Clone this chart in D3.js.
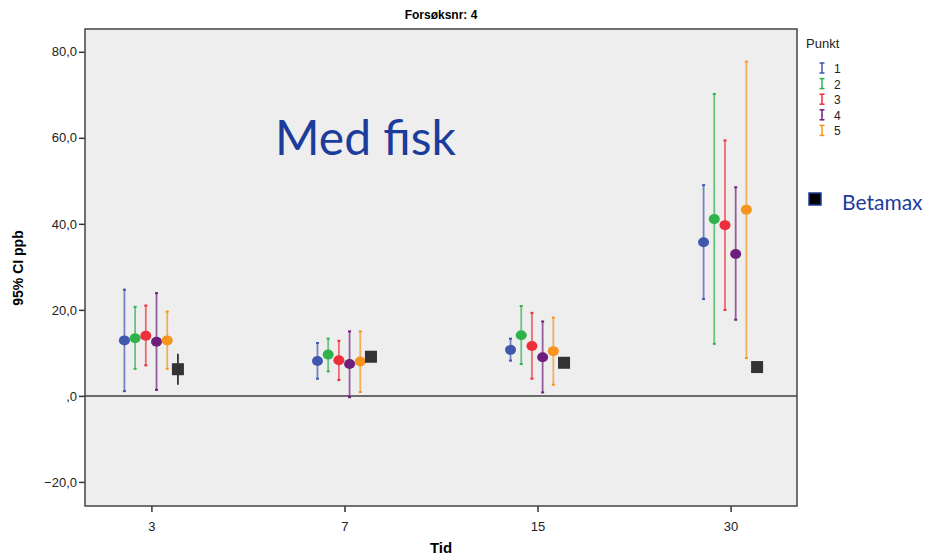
<!DOCTYPE html>
<html>
<head>
<meta charset="utf-8">
<script src="https://cdn.jsdelivr.net/npm/d3@7"></script>
<style>
  body { margin: 0; background: #fff; }
  text { font-family: "Liberation Sans", Arial, sans-serif; }
</style>
</head>
<body>
<div id="chartDiv"></div>
<script>
//--------------------------------------------------------------------------------
// data
var tider = ["3", "7", "15", "30"];
var punkter = ["1", "2", "3", "4", "5"];
var punktColors = ["#3f57ad", "#2fb24a", "#ec2f3a", "#6e1f7b", "#f7941d"];

   // mean, lower, upper per tid, one array per punkt
var punkt1 = [[12.9, 1.1, 24.7], [8.1, 4.0, 12.3], [10.7, 8.2, 13.3], [35.7, 22.5, 49.0]];
var punkt2 = [[13.4, 6.3, 20.7], [9.6, 5.7, 13.3], [14.1, 7.4, 20.9], [41.1, 12.1, 70.2]];
var punkt3 = [[14.0, 7.1, 21.0], [8.3, 3.7, 12.8], [11.6, 4.0, 19.3], [39.7, 20.0, 59.4]];
var punkt4 = [[12.6, 1.4, 23.9], [7.4, -0.3, 15.0], [9.0, 0.8, 17.3], [33.0, 17.7, 48.5]];
var punkt5 = [[12.9, 6.3, 19.6], [8.0, 0.9, 15.0], [10.4, 2.6, 18.2], [43.3, 8.8, 77.7]];
var betamax = [[6.2, 2.6, 9.8], [9.1, 7.9, 10.2], [7.7, 7.3, 8.1], [6.7, 6.7, 6.7]];

var yTicks = [80, 60, 40, 20, 0, -20];

//--------------------------------------------------------------------------------
var width = 926, height = 559;
var plot = {left: 85, right: 797, top: 29, bottom: 506};

var svg = d3.select("#chartDiv")
    .append("svg")
    .attr("width", width)
    .attr("height", height);

var xScale = d3.scalePoint()
    .domain(tider)
    .range([plot.left, plot.right])
    .padding(0.344);

var slotScale = d3.scaleLinear()
    .domain([0, 5])
    .range([-27, 26.5]);

var yScale = d3.scaleLinear()
    .domain([-25.6, 85.3])
    .range([plot.bottom, plot.top]);

svg.append("rect")
   .attr("x", plot.left)
   .attr("y", plot.top)
   .attr("width", plot.right - plot.left)
   .attr("height", plot.bottom - plot.top)
   .attr("fill", "#eeeeee");

   // zero reference line
svg.append("line")
   .attr("x1", plot.left).attr("x2", plot.right)
   .attr("y1", yScale(0)).attr("y2", yScale(0))
   .attr("stroke", "#6b6b6b")
   .attr("stroke-width", 2);

svg.append("text")
   .attr("x", 275)
   .attr("y", 155)
   .attr("fill", "#1c3c9c")
   .style("font-family", "Lato, 'Noto Sans', sans-serif")
   .style("font-size", "48px")
   .text("Med fisk");

//--------------------------------------------------------------------------------
function formatTick(v)
{
   if(v == 0) return ",0";
   return d3.format(".1f")(v).replace(".", ",");
}

var yAxis = d3.axisLeft(yScale)
    .tickValues(yTicks)
    .tickSize(6)
    .tickFormat(formatTick);

var gy = svg.append("g")
    .attr("transform", "translate(" + plot.left + ",0)")
    .call(yAxis);
gy.select(".domain").remove();
gy.selectAll("line").attr("stroke", "#333").attr("stroke-width", 1.5);
gy.selectAll("text").style("font-size", "13px").attr("fill", "#222").attr("x", -8);

var xAxis = d3.axisBottom(xScale).tickSize(6);
var gx = svg.append("g")
    .attr("transform", "translate(0," + plot.bottom + ")")
    .call(xAxis);
gx.select(".domain").remove();
gx.selectAll("line").attr("stroke", "#333").attr("stroke-width", 1.5);
gx.selectAll("text").style("font-size", "13px").attr("fill", "#222").attr("dy", "1.2em");

svg.append("rect")
   .attr("x", plot.left)
   .attr("y", plot.top)
   .attr("width", plot.right - plot.left)
   .attr("height", plot.bottom - plot.top)
   .attr("fill", "none")
   .attr("stroke", "#444")
   .attr("stroke-width", 1.5);

//--------------------------------------------------------------------------------
var series = [punkt1, punkt2, punkt3, punkt4, punkt5];

series.forEach(function(values, s){
   var color = punktColors[s];
   var g = svg.append("g");
   var cx = function(d, i){ return xScale(tider[i]) + slotScale(s); };

   g.selectAll("line.bar")
      .data(values)
      .enter()
      .append("line")
      .attr("x1", cx).attr("x2", cx)
      .attr("y1", function(d){ return yScale(d[1]); })
      .attr("y2", function(d){ return yScale(d[2]); })
      .attr("stroke", color)
      .attr("stroke-opacity", 0.7)
      .attr("stroke-width", 1.8);

   [1, 2].forEach(function(k){
      g.selectAll("line.cap" + k)
         .data(values)
         .enter()
         .append("line")
         .attr("x1", function(d, i){ return cx(d, i) - 1.5; })
         .attr("x2", function(d, i){ return cx(d, i) + 1.5; })
         .attr("y1", function(d){ return yScale(d[k]); })
         .attr("y2", function(d){ return yScale(d[k]); })
         .attr("stroke", color)
         .attr("stroke-width", 2);
      });

   g.selectAll("ellipse")
      .data(values)
      .enter()
      .append("ellipse")
      .attr("cx", cx)
      .attr("cy", function(d){ return yScale(d[0]); })
      .attr("rx", 5.5)
      .attr("ry", 5)
      .attr("fill", color);
   });

   // Betamax squares
var bg = svg.append("g");
var bx = function(d, i){ return xScale(tider[i]) + slotScale(5); };

bg.selectAll("line.bar")
   .data(betamax)
   .enter()
   .append("line")
   .attr("x1", bx).attr("x2", bx)
   .attr("y1", function(d){ return yScale(d[1]); })
   .attr("y2", function(d){ return yScale(d[2]); })
   .attr("stroke", "#333")
   .attr("stroke-width", 1.8);

bg.selectAll("rect")
   .data(betamax)
   .enter()
   .append("rect")
   .attr("x", function(d, i){ return bx(d, i) - 6; })
   .attr("y", function(d){ return yScale(d[0]) - 6; })
   .attr("width", 12)
   .attr("height", 12)
   .attr("fill", "#333");

//--------------------------------------------------------------------------------
// titles
svg.append("text")
   .attr("x", 441).attr("y", 19)
   .attr("text-anchor", "middle")
   .style("font-size", "12px")
   .style("font-weight", "bold")
   .text("Forsøksnr: 4");

svg.append("text")
   .attr("x", 441).attr("y", 553)
   .attr("text-anchor", "middle")
   .style("font-size", "15px")
   .style("font-weight", "bold")
   .text("Tid");

svg.append("text")
   .attr("transform", "translate(23," + 268 + ") rotate(-90)")
   .attr("text-anchor", "middle")
   .style("font-size", "14px")
   .style("font-weight", "bold")
   .text("95% CI ppb");

//--------------------------------------------------------------------------------
// legend
svg.append("text")
   .attr("x", 806).attr("y", 48)
   .style("font-size", "13px")
   .attr("fill", "#222")
   .text("Punkt");

var leg = svg.selectAll("g.legend")
   .data(punkter)
   .enter()
   .append("g")
   .attr("transform", function(d, i){ return "translate(822," + (68 + i * 15.6) + ")"; });

leg.append("line")
   .attr("x1", 0).attr("x2", 0).attr("y1", -5).attr("y2", 5)
   .attr("stroke", function(d, i){ return punktColors[i]; })
   .attr("stroke-width", 1.5);
leg.append("line")
   .attr("x1", -2.5).attr("x2", 2.5).attr("y1", -5).attr("y2", -5)
   .attr("stroke", function(d, i){ return punktColors[i]; })
   .attr("stroke-width", 1.5);
leg.append("line")
   .attr("x1", -2.5).attr("x2", 2.5).attr("y1", 5).attr("y2", 5)
   .attr("stroke", function(d, i){ return punktColors[i]; })
   .attr("stroke-width", 1.5);
leg.append("text")
   .attr("x", 12).attr("y", 5)
   .style("font-size", "12px")
   .attr("fill", "#222")
   .text(function(d){ return d; });

svg.append("rect")
   .attr("x", 809).attr("y", 193)
   .attr("width", 12).attr("height", 12)
   .attr("fill", "#000")
   .attr("stroke", "#1c3c9c")
   .attr("stroke-width", 1.5);

svg.append("text")
   .attr("x", 842).attr("y", 210)
   .attr("fill", "#1c3c9c")
   .style("font-family", "Lato, 'Noto Sans', sans-serif")
   .style("font-size", "21px")
   .text("Betamax");
</script>
</body>
</html>
